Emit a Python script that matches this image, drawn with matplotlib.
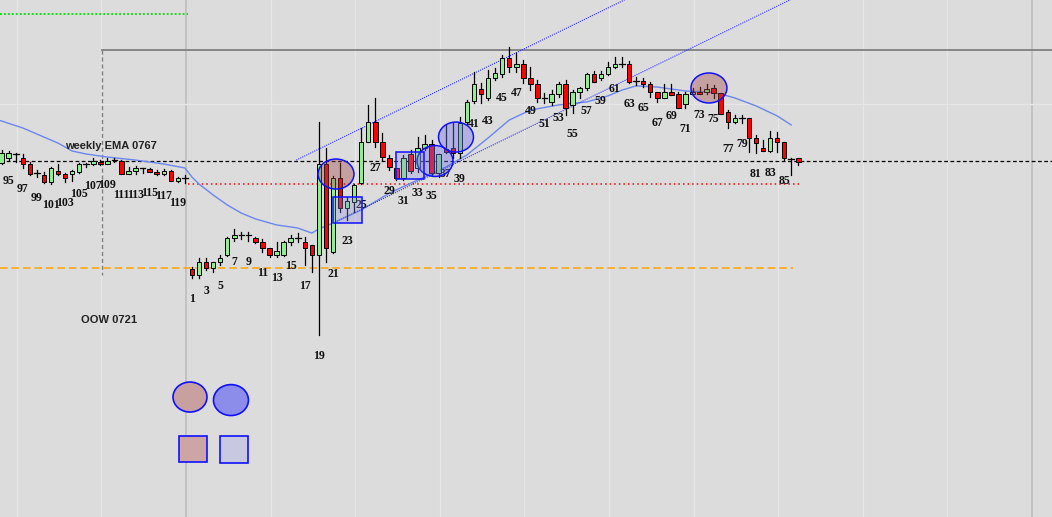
import matplotlib.pyplot as plt
from matplotlib.patches import Ellipse, Rectangle

# previous week, bars 93-120 (prices in pips, 7670 = 0.7670)
prev_bars = list(range(93, 121))
prev_open = [7683, 7661, 7683, 7700, 7683, 7657, 7618, 7610, 7580, 7627, 7614, 7614, 7623, 7657,
             7657, 7666, 7657, 7674, 7670, 7614, 7627, 7640, 7636, 7623, 7614, 7627, 7584, 7597]
prev_high = [7696, 7717, 7713, 7704, 7700, 7666, 7631, 7623, 7644, 7657, 7618, 7631, 7661, 7661,
             7683, 7674, 7683, 7683, 7674, 7644, 7649, 7640, 7640, 7631, 7636, 7631, 7601, 7610]
prev_low = [7644, 7657, 7674, 7666, 7640, 7610, 7601, 7575, 7571, 7610, 7580, 7584, 7618, 7644,
            7653, 7653, 7657, 7666, 7614, 7614, 7614, 7618, 7623, 7610, 7610, 7584, 7580, 7575]
prev_close = [7661, 7704, 7704, 7700, 7657, 7614, 7618, 7580, 7640, 7614, 7597, 7627, 7657, 7657,
              7670, 7657, 7670, 7674, 7614, 7627, 7640, 7640, 7623, 7614, 7627, 7584, 7597, 7597]

# this week, bars 1-87
week_bars = list(range(1, 88))
week_open = [7206, 7180, 7236, 7210, 7236, 7266, 7339, 7352, 7352, 7339, 7322, 7296, 7266, 7266,
             7322, 7339, 7322, 7309, 7266, 7657, 7279, 7597, 7468, 7494, 7575, 7752, 7838, 7752,
             7683, 7640, 7597, 7700, 7640, 7726, 7743, 7618, 7722, 7726, 7704, 7838, 7928, 7980,
             7941, 8027, 8044, 8113, 8074, 8087, 8027, 8001, 7941, 7924, 7958, 8001, 7911, 7967,
             7984, 8044, 8027, 8044, 8074, 8087, 8087, 8014, 8014, 8001, 7967, 7941, 7967, 7958,
             7915, 7958, 7967, 7967, 7984, 7962, 7881, 7838, 7855, 7855, 7769, 7726, 7713, 7769,
             7752, 7679, 7683]
week_high = [7214, 7253, 7253, 7236, 7266, 7343, 7378, 7365, 7365, 7343, 7335, 7296, 7322, 7326,
             7352, 7360, 7343, 7309, 7838, 7726, 7606, 7661, 7515, 7571, 7812, 7911, 7941, 7790,
             7696, 7640, 7696, 7717, 7773, 7782, 7760, 7700, 7825, 7833, 7859, 7932, 8053, 8005,
             8061, 8070, 8126, 8160, 8134, 8104, 8074, 8018, 7962, 7975, 8010, 8018, 7975, 7988,
             8048, 8057, 8057, 8096, 8117, 8117, 8100, 8031, 8027, 8010, 7967, 8001, 8001, 7967,
             7967, 7984, 7988, 8001, 7997, 7962, 7889, 7868, 7868, 7855, 7782, 7760, 7799, 7795,
             7752, 7683, 7683]
week_low = [7167, 7167, 7201, 7193, 7223, 7262, 7326, 7335, 7326, 7317, 7279, 7257, 7257, 7262,
            7309, 7322, 7223, 7193, 6922, 7236, 7274, 7451, 7416, 7451, 7571, 7750, 7730, 7674,
            7631, 7588, 7588, 7618, 7623, 7717, 7610, 7601, 7704, 7683, 7683, 7829, 7919, 7919,
            7932, 8018, 8031, 8053, 8053, 8005, 7975, 7924, 7919, 7911, 7945, 7868, 7876, 7941,
            7975, 8010, 8018, 8040, 8070, 8074, 8005, 7997, 7988, 7945, 7924, 7941, 7954, 7898,
            7898, 7954, 7958, 7958, 7941, 7872, 7812, 7833, 7833, 7709, 7704, 7713, 7709, 7709,
            7674, 7610, 7653]
week_close = [7180, 7236, 7210, 7236, 7253, 7339, 7352, 7352, 7352, 7322, 7296, 7266, 7283, 7322,
              7339, 7339, 7296, 7266, 7657, 7296, 7597, 7468, 7498, 7567, 7752, 7838, 7752, 7687,
              7644, 7597, 7683, 7627, 7726, 7743, 7618, 7700, 7709, 7704, 7833, 7924, 8001, 7958,
              8027, 8048, 8113, 8074, 8087, 8027, 8001, 7941, 7941, 7958, 8001, 7898, 7967, 7984,
              8044, 8010, 8044, 8074, 8087, 8087, 8010, 8014, 8001, 7967, 7941, 7967, 7954, 7898,
              7958, 7967, 7958, 7980, 7962, 7872, 7838, 7855, 7855, 7769, 7747, 7713, 7769, 7752,
              7683, 7679, 7666]

# EMA read at some bars
ema_prev_bars = [94, 97, 100, 102, 104, 106, 109, 113, 117, 120]
ema_prev_vals = [7842, 7812, 7773, 7747, 7713, 7700, 7687, 7674, 7657, 7640]
ema_week_bars = [1, 2, 4, 6, 8, 10, 13, 16, 18, 19, 21, 25, 29, 33, 37, 40, 43, 46, 49, 53,
                 57, 60, 62, 64, 67, 71, 74, 76, 78, 81, 84, 86]
ema_week_vals = [7601, 7571, 7524, 7481, 7446, 7421, 7395, 7382, 7360, 7378, 7403, 7459, 7532,
                 7588, 7644, 7696, 7769, 7846, 7889, 7911, 7924, 7950, 7975, 7993, 7988, 7971,
                 7967, 7958, 7941, 7907, 7864, 7825]

# channel (bar, price)
upper_channel = [(15.8, 7674), (75, 8550)]
lower_channel = [(21, 7403), (88, 8395)]

weekly_ema = 7670
oow_level = 7210
red_level = 7571
top_level = 8147
green_level = 8302
last_label = 85


def pos_prev(b):
    return b - 121


def pos_week(b):
    return b - 1


plt.rcParams['font.family'] = ['Liberation Sans', 'DejaVu Sans']
fig = plt.figure(figsize=(10.52, 5.17), dpi=100)
ax = fig.add_axes([0, 0, 1, 1])
bg = '#DCDCDC'
fig.patch.set_facecolor(bg)
ax.set_facecolor(bg)
ax.set_xlim(-27.23, 121.99)
ax.set_ylim(6139.2, 8362.3)
ax.axis('off')

# grid
for j in range(-2, 11):
    xg = -0.85 + 12 * j
    if j in (0, 10):
        ax.axvline(xg, color='#BDBDBD', lw=1.2, zorder=0)
    else:
        ax.axvline(xg, color='#E6E6E6', lw=1, zorder=0)
ax.axhline(7915, color='#E6E6E6', lw=1, zorder=0)

# levels
ax.plot([-27.3, -0.5], [green_level, green_level], color='#00DD00', lw=1.3, ls=(0, (1, 1.2)), zorder=1)
ax.plot([-12.8, 122], [top_level, top_level], color='#808080', lw=1.3, zorder=1)
ax.plot([-12.8, -12.8], [top_level, 7180], color='#808080', lw=1.0, ls=(0, (3, 2)), zorder=1)
ax.axhline(weekly_ema, color='black', lw=0.9, ls=(0, (3, 2)), zorder=1)
ax.plot([-0.5, 86.5], [red_level, red_level], color='red', lw=1.1, ls=(0, (1, 2)), zorder=1)
ax.plot([-27.3, 85.2], [oow_level, oow_level], color='#FFA500', lw=1.1, ls=(0, (5, 2.5)), zorder=1)

# EMA
ema_x = [pos_prev(b) for b in ema_prev_bars] + [pos_week(b) for b in ema_week_bars]
ema_y = ema_prev_vals + ema_week_vals
ax.plot([-28] + ema_x, [7850] + ema_y, color='#6B86EE', lw=1.0, zorder=2)

# channel lines
for line in (upper_channel, lower_channel):
    xs = [pos_week(p[0]) for p in line]
    ys = [p[1] for p in line]
    ax.plot(xs, ys, color='#2E2EFF', lw=0.8, ls=(0, (1, 1)), zorder=2)

# candles
xs = [pos_prev(b) for b in prev_bars] + [pos_week(b) for b in week_bars]
o = prev_open + week_open
h = prev_high + week_high
lo = prev_low + week_low
c = prev_close + week_close
bw = 0.64
for x, op, hi, low, cl in zip(xs, o, h, lo, c):
    ax.plot([x, x], [low, hi], color='black', lw=0.9, zorder=3)
    if op == cl:
        ax.plot([x - 0.4, x + 0.4], [op, op], color='black', lw=0.9, zorder=4)
    else:
        col = '#90EE90' if cl > op else '#FF0000'
        ax.add_patch(Rectangle((x - bw / 2, min(op, cl)), bw, abs(cl - op),
                               facecolor=col, edgecolor='black', lw=0.7, zorder=4))

# bar numbers under odd bars
labels = [(pos_prev(b), l, str(b)) for b, l in zip(prev_bars, prev_low) if b % 2 == 1]
labels += [(pos_week(b), l, str(b)) for b, l in zip(week_bars, week_low)
           if b % 2 == 1 and b <= last_label]
for x, low, t in labels:
    ax.text(x, low - 92, t, ha='center', va='center', fontsize=8.5, fontweight='bold',
            family='Liberation Serif', color='#111111', zorder=5)

ax.text(-11.5, 7735, 'weekly EMA 0767', ha='center', va='center', fontsize=8,
        fontweight='bold', color='#222222', zorder=5)
ax.text(-11.8, 6985, 'OOW 0721', ha='center', va='center', fontsize=8,
        fontweight='bold', color='#222222', zorder=5)

# marked zones
rosy = (0.63, 0.28, 0.28, 0.4)
blue = (0.43, 0.43, 0.92, 0.4)
for cx, cy, w, hh, fc in [(20.43, 7614, 5.1, 129, rosy), (34.47, 7670, 5.1, 133, blue),
                          (37.45, 7773, 4.96, 129, blue), (73.33, 7984, 5.1, 129, rosy)]:
    ax.add_patch(Ellipse((cx, cy), w, hh, facecolor=fc, edgecolor='#1010FF', lw=1.1, zorder=6))
for x0, x1, y0, y1 in [(20.0, 24.11, 7403, 7515), (28.94, 32.91, 7593, 7709)]:
    ax.add_patch(Rectangle((x0, y0), x1 - x0, y1 - y0, facecolor=(0.55, 0.55, 0.9, 0.3),
                           edgecolor='#1010FF', lw=1.1, zorder=6))

# swatches
ax.add_patch(Ellipse((-0.28, 6655), 4.82, 129, facecolor='#C8A0A0', edgecolor='#1010FF', lw=1.2, zorder=6))
ax.add_patch(Ellipse((5.53, 6642), 4.96, 133, facecolor='#8C8CEB', edgecolor='#1010FF', lw=1.2, zorder=6))
ax.add_patch(Rectangle((-1.84, 6376), 3.97, 112, facecolor='#CDA5A5', edgecolor='#1010FF', lw=1.2, zorder=6))
ax.add_patch(Rectangle((3.97, 6372), 3.97, 116, facecolor='#C8C8E1', edgecolor='#1010FF', lw=1.2, zorder=6))

fig.savefig('out.png', dpi=100, facecolor=bg)
